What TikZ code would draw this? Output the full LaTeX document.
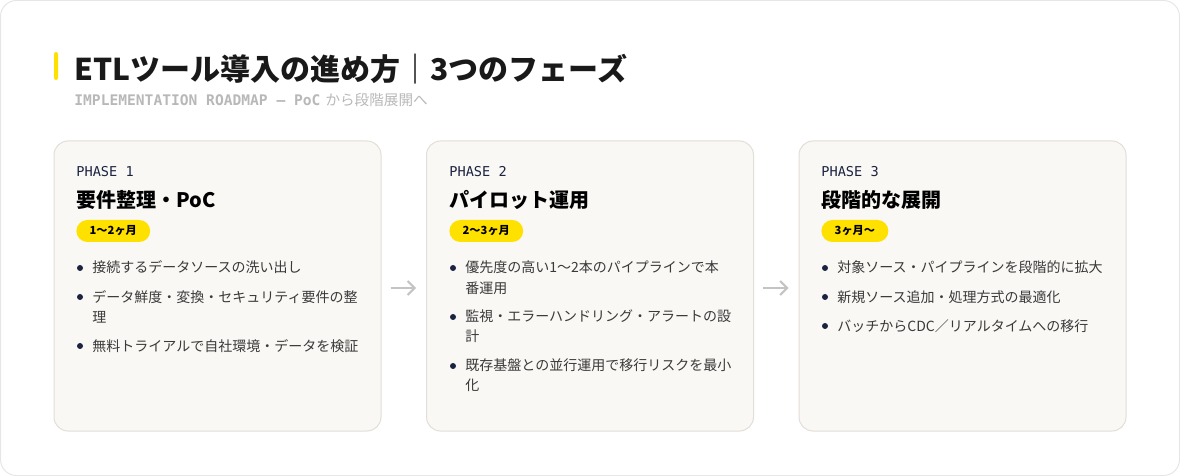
\documentclass[tikz,border=0pt]{standalone}
\usepackage{fontspec}
\setmainfont{Noto Sans CJK JP}
\setmonofont{DejaVu Sans Mono}
\usetikzlibrary{arrows.meta,shapes.misc}
\definecolor{framec}{HTML}{E6E6E6}
\definecolor{cardfill}{HTML}{FAF8F5}
\definecolor{cardline}{HTML}{E2DED8}
\definecolor{accent}{HTML}{FFE100}
\definecolor{navy}{HTML}{1B2340}
\definecolor{bodyc}{HTML}{3A3A3A}
\definecolor{subc}{HTML}{B8B8B8}
\definecolor{arrowc}{HTML}{C4C4C4}
\tikzset{
  card/.style={draw=cardline, fill=cardfill, line width=0.5pt, rounded corners=7pt,
    minimum width=163.5pt, minimum height=145pt, inner sep=0pt},
  phaselabel/.style={anchor=west, inner sep=0pt, text=navy, font=\ttfamily\fontsize{6.8pt}{8pt}\selectfont},
  cardtitle/.style={anchor=west, inner sep=0pt, text=black, font=\bfseries\fontsize{10pt}{12pt}\selectfont},
  badge/.style={anchor=west, rounded rectangle, fill=accent, inner xsep=6pt, inner ysep=0pt,
    minimum height=11pt, text=black, font=\bfseries\fontsize{5.6pt}{7pt}\selectfont},
  item/.style={anchor=base west, inner sep=0pt, align=left, text=bodyc, font=\fontsize{7pt}{10pt}\selectfont},
  dot/.style={circle, fill=navy, inner sep=0pt, minimum size=3pt},
  flowarrow/.style={draw=arrowc, line width=1pt, -{Straight Barb[length=3.5pt,width=7pt]},
    shorten <=4.5pt, shorten >=5pt}
}
\begin{document}
\begin{tikzpicture}[x=0.5pt,y=-0.5pt]
  \useasboundingbox (0,0) rectangle (1180,476);
  \draw[framec, line width=0.5pt, rounded corners=8pt] (0.5,0.5) rectangle (1179.5,475.5);
  \fill[accent, rounded corners=1pt] (54,52) rectangle (58,80);
  \node[anchor=west, inner sep=0pt, font=\bfseries\fontsize{15pt}{17pt}\selectfont, text=black!90] (title) at (74,69)
    {ETLツール導入の進め方｜3つのフェーズ};
  \node[anchor=west, inner sep=0pt, text=subc, font=\fontsize{7.3pt}{9pt}\selectfont] (subtitle) at (74,100)
    {{\ttfamily\bfseries IMPLEMENTATION ROADMAP — PoC}\hspace{2.5pt}から段階展開へ};

  \node[card] (card1) at (217.5,286) {};
  \node[card] (card2) at (590,286) {};
  \node[card] (card3) at (962.5,286) {};

  \draw[flowarrow] ([yshift=-1pt]card1.east) -- ([yshift=-1pt]card2.west);
  \draw[flowarrow] ([yshift=-1pt]card2.east) -- ([yshift=-1pt]card3.west);

  \node[phaselabel] (phase1) at (76,172) {PHASE 1};
  \node[cardtitle] (title1) at (76,200) {要件整理・PoC};
  \node[badge] (badge1) at (76,231) {1〜2ヶ月};
  \node[item] (item11) at (92,273) {接続するデータソースの洗い出し};
  \node[item] (item12) at (92,322) {データ鮮度・変換・セキュリティ要件の整\\理};
  \node[item] (item13) at (92,351) {無料トライアルで自社環境・データを検証};
  \node[dot] at (80,268) {};
  \node[dot] at (80,297) {};
  \node[dot] at (80,346) {};

  \node[phaselabel] (phase2) at (449,172) {PHASE 2};
  \node[cardtitle] (title2) at (449,200) {パイロット運用};
  \node[badge] (badge2) at (449,231) {2〜3ヶ月};
  \node[item] (item21) at (465,293) {優先度の高い1〜2本のパイプラインで本\\番運用};
  \node[item] (item22) at (465,342) {監視・エラーハンドリング・アラートの設\\計};
  \node[item] (item23) at (465,391) {既存基盤との並行運用で移行リスクを最小\\化};
  \node[dot] at (453,268) {};
  \node[dot] at (453,317) {};
  \node[dot] at (453,366) {};

  \node[phaselabel] (phase3) at (821,172) {PHASE 3};
  \node[cardtitle] (title3) at (821,200) {段階的な展開};
  \node[badge] (badge3) at (821,231) {3ヶ月〜};
  \node[item] (item31) at (837,273) {対象ソース・パイプラインを段階的に拡大};
  \node[item] (item32) at (837,302) {新規ソース追加・処理方式の最適化};
  \node[item] (item33) at (837,331) {バッチからCDC／リアルタイムへの移行};
  \node[dot] at (825,268) {};
  \node[dot] at (825,297) {};
  \node[dot] at (825,326) {};
\end{tikzpicture}
\end{document}
